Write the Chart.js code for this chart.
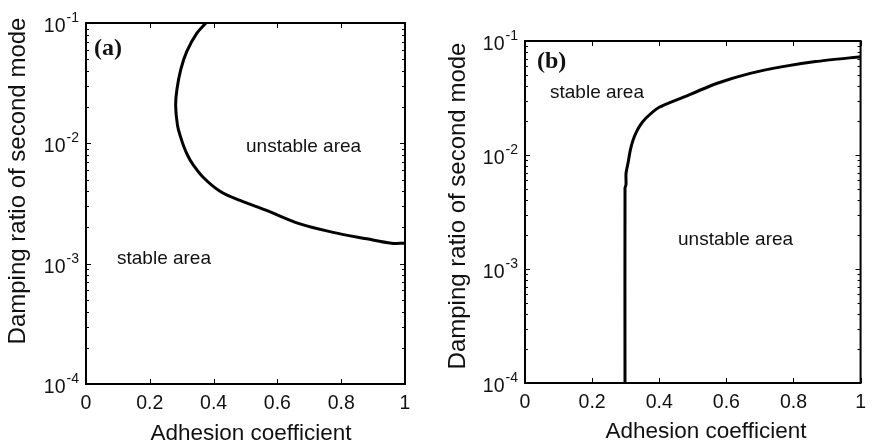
<!DOCTYPE html>
<html><head><meta charset="utf-8">
<script src="https://cdn.jsdelivr.net/npm/chart.js@4/dist/chart.umd.min.js"></script>
<style>
html,body{margin:0;padding:0;background:#fff;}
#wrap{position:relative;width:874px;height:447px;overflow:hidden;}
canvas{position:absolute;top:0;}
</style></head><body>
<div id="wrap">
<canvas id="ca" width="437" height="447" style="left:0"></canvas>
<canvas id="cb" width="437" height="447" style="left:437px"></canvas>
</div>
<script>
// ---- data ----
const xTicks = [0, 0.2, 0.4, 0.6, 0.8, 1];
const xTickLabels = ['0', '0.2', '0.4', '0.6', '0.8', '1'];
const yDecades = [1e-4, 1e-3, 1e-2, 1e-1];
const yExponents = ['-4', '-3', '-2', '-1'];
const yMinorMultipliers = [2, 3, 4, 5, 6, 7, 8, 9];

// panel (a) boundary
const curveAx = [0.376, 0.347, 0.316, 0.297, 0.285, 0.281, 0.287, 0.297, 0.306, 0.318, 0.333, 0.368, 0.420, 0.483, 0.566, 0.671, 0.775, 0.880, 0.958, 1.000];
const curveAy = [0.100, 0.082, 0.058, 0.041, 0.0280, 0.0205, 0.0140, 0.0112, 0.0095, 0.0080, 0.0068, 0.0052, 0.0040, 0.00335, 0.00277, 0.00214, 0.00182, 0.00161, 0.00148, 0.00148];

// panel (b) boundary
const curveBx = [0.298, 0.298, 0.301, 0.301, 0.307, 0.314, 0.322, 0.330, 0.342, 0.360, 0.400, 0.475, 0.573, 0.671, 0.768, 0.866, 1.000];
const curveBy = [0.0001, 0.0051, 0.0055, 0.0069, 0.0085, 0.0111, 0.0135, 0.0155, 0.0180, 0.0210, 0.0262, 0.0324, 0.0426, 0.052, 0.0596, 0.066, 0.0728];

const xTitle = 'Adhesion coefficient';
const yTitle = 'Damping ratio of second mode';

const SANS = "'Liberation Sans', Arial, sans-serif";
const SERIF = "'Liberation Serif', 'Times New Roman', serif";
const TXT = '#111';

function makePanel(canvasId, cx, cy, cfg) {
  const pts = cx.map((x, i) => ({ x: x, y: cy[i] }));
  const plugin = {
    id: 'matlabAxes' + canvasId,
    afterDraw(chart) {
      const ctx = chart.ctx;
      const a = chart.chartArea;
      const xs = chart.scales.x, ys = chart.scales.y;
      ctx.save();
      // inner ticks
      ctx.strokeStyle = '#000';
      ctx.lineWidth = 1;
      ctx.beginPath();
      xTicks.forEach(v => {
        const px = Math.round(xs.getPixelForValue(v)) + 0.5;
        ctx.moveTo(px, a.bottom); ctx.lineTo(px, a.bottom - 5);
        ctx.moveTo(px, a.top); ctx.lineTo(px, a.top + 5);
      });
      yDecades.forEach((d, i) => {
        const py = Math.round(ys.getPixelForValue(d)) + 0.5;
        ctx.moveTo(a.left, py); ctx.lineTo(a.left + 5, py);
        ctx.moveTo(a.right, py); ctx.lineTo(a.right - 5, py);
        if (i < yDecades.length - 1) {
          yMinorMultipliers.forEach(m => {
            const pm = Math.round(ys.getPixelForValue(m * d)) + 0.5;
            ctx.moveTo(a.left, pm); ctx.lineTo(a.left + 3, pm);
            ctx.moveTo(a.right, pm); ctx.lineTo(a.right - 3, pm);
          });
        }
      });
      ctx.stroke();
      // box
      ctx.lineWidth = 2;
      ctx.strokeRect(a.left, a.top, a.right - a.left, a.bottom - a.top);
      // y tick labels 10^n
      ctx.fillStyle = TXT;
      yDecades.forEach((d, i) => {
        const py = ys.getPixelForValue(d);
        ctx.font = '14px ' + SANS;
        const we = ctx.measureText(yExponents[i]).width;
        ctx.textAlign = 'left';
        ctx.textBaseline = 'alphabetic';
        const right = a.left - 7;
        ctx.fillText(yExponents[i], right - we, py - 1);
        ctx.font = '19.5px ' + SANS;
        const wb = ctx.measureText('10').width;
        ctx.fillText('10', right - we - 1 - wb, py + 9);
      });
      // titles
      ctx.font = '22.5px ' + SANS;
      ctx.textAlign = 'center';
      ctx.fillText(xTitle, cfg.xTitleX, cfg.xTitleY);
      ctx.save();
      ctx.translate(cfg.yTitleX, cfg.yTitleY);
      ctx.rotate(-Math.PI / 2);
      ctx.font = '24px ' + SANS;
      ctx.fillText(yTitle, 0, 0);
      ctx.restore();
      // annotations
      ctx.textAlign = 'left';
      ctx.font = 'bold 24px ' + SERIF;
      ctx.fillText(cfg.tag, cfg.tagX, cfg.tagY);
      ctx.font = '19px ' + SANS;
      cfg.notes.forEach(n => ctx.fillText(n.t, n.x, n.y));
      ctx.restore();
    }
  };
  return new Chart(document.getElementById(canvasId), {
    type: 'scatter',
    data: {
      datasets: [{
        data: pts,
        showLine: true,
        borderColor: '#000',
        borderWidth: 3,
        pointRadius: 0,
        tension: cfg.tension,
        fill: false
      }]
    },
    options: {
      responsive: false,
      animation: false,
      events: [],
      layout: { padding: cfg.padding },
      plugins: { legend: { display: false }, tooltip: { enabled: false } },
      scales: {
        x: {
          type: 'linear',
          min: 0, max: 1,
          afterFit: s => { s.height = cfg.xHeight; },
          afterBuildTicks: s => { s.ticks = xTicks.map(v => ({ value: v })); },
          ticks: {
            callback: (v, i) => xTickLabels[i],
            font: { family: SANS, size: 19.5 },
            color: TXT,
            padding: cfg.tickPad,
            maxRotation: 0,
            autoSkip: false
          },
          grid: { display: false, drawTicks: false },
          border: { display: false },
          title: { display: false }
        },
        y: {
          type: 'logarithmic',
          min: 1e-4, max: 1e-1,
          display: false
        }
      }
    },
    plugins: [plugin]
  });
}

makePanel('ca', curveAx, curveAy, {
  padding: { left: 86, right: 32, top: 23, bottom: 0 },
  xHeight: 63, tickPad: 8, tension: 0.35,
  xTitleX: 251, xTitleY: 440,
  yTitleX: 25, yTitleY: 181,
  tag: '(a)', tagX: 94, tagY: 55,
  notes: [{ t: 'unstable area', x: 246, y: 152 }, { t: 'stable area', x: 117, y: 264 }]
});
makePanel('cb', curveBx, curveBy, {
  padding: { left: 88, right: 8, top: 41, bottom: 0 },
  xHeight: 64, tickPad: 8, tension: 0.2,
  xTitleX: 269, xTitleY: 438,
  yTitleX: 28, yTitleY: 206,
  tag: '(b)', tagX: 100, tagY: 68,
  notes: [{ t: 'stable area', x: 113, y: 98 }, { t: 'unstable area', x: 241, y: 245 }]
});
</script>
</body></html>
